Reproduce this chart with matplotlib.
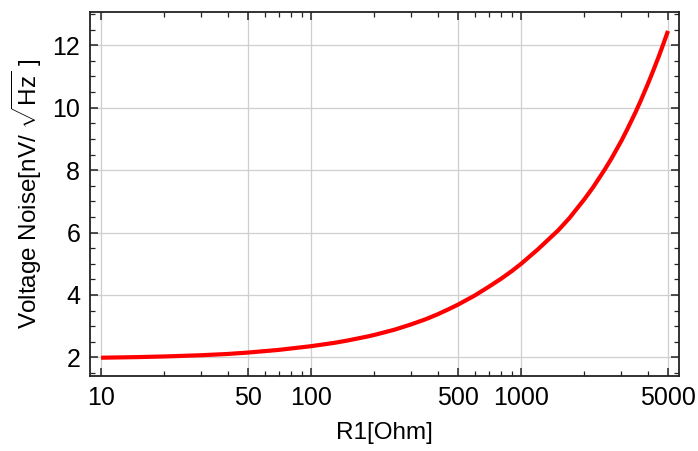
import matplotlib

matplotlib.use("Agg")

import matplotlib.pyplot as plt
from matplotlib.ticker import FixedLocator, MultipleLocator, NullFormatter

# values
r1_ohm = [10, 15, 20, 30, 40, 50, 70, 100, 130, 150, 184, 200, 250, 300, 350,
          400, 450, 500, 600, 700, 800, 900, 1000, 1200, 1500, 1700, 2000,
          2200, 2500, 2700, 3000, 3200, 3500, 3700, 4000, 4200, 4500, 4700, 5000]
noise_nv = [1.99, 2.01, 2.03, 2.07, 2.11, 2.155, 2.24, 2.36, 2.47, 2.545, 2.665,
            2.72, 2.89, 3.06, 3.22, 3.38, 3.54, 3.69, 3.98, 4.26, 4.515, 4.76,
            5.00, 5.46, 6.07, 6.47, 7.07, 7.45, 8.02, 8.39, 8.94, 9.31, 9.85,
            10.21, 10.745, 11.095, 11.61, 11.955, 12.46]

x_ticks = [10, 50, 100, 500, 1000, 5000]
x_minor = [20, 30, 40, 60, 70, 80, 90, 200, 300, 400, 600, 700, 800, 900,
           2000, 3000, 4000]
y_ticks = [2, 4, 6, 8, 10, 12]

plt.rcParams["font.family"] = ["Liberation Sans", "DejaVu Sans"]
plt.rcParams["mathtext.fontset"] = "custom"
plt.rcParams["mathtext.rm"] = "Liberation Sans"

fig = plt.figure(figsize=(6.98, 4.51), dpi=100)
ax = fig.add_axes([0.129, 0.166, 0.844, 0.807])

ax.plot(r1_ohm, noise_nv, color="#ff0000", lw=3.0, solid_capstyle="butt",
        solid_joinstyle="round")

ax.set_xscale("log")
ax.set_xlim(8.86, 5650)
ax.set_ylim(1.40, 13.06)

ax.xaxis.set_major_locator(FixedLocator(x_ticks))
ax.xaxis.set_minor_locator(FixedLocator(x_minor))
ax.xaxis.set_minor_formatter(NullFormatter())
ax.set_xticklabels([str(t) for t in x_ticks])
ax.yaxis.set_major_locator(FixedLocator(y_ticks))
ax.yaxis.set_minor_locator(MultipleLocator(0.5))

ax.grid(True, which="major", color="#cfcfcf", lw=0.9)
ax.tick_params(which="both", direction="in", top=True, right=True,
               labelsize=18, color="#222222")
ax.tick_params(which="major", length=6, width=1.1, pad=7)
ax.tick_params(which="minor", length=3.5, width=0.9)
for s in ax.spines.values():
    s.set_color("#222222")
    s.set_linewidth(1.3)

ax.set_xlabel("R1[Ohm]", fontsize=17.5, labelpad=9)
ax.set_ylabel(r"Voltage Noise[nV/ $\sqrt{\mathrm{Hz}}$ ]", fontsize=17.5,
              labelpad=6)

fig.savefig("out.png", dpi=100)
